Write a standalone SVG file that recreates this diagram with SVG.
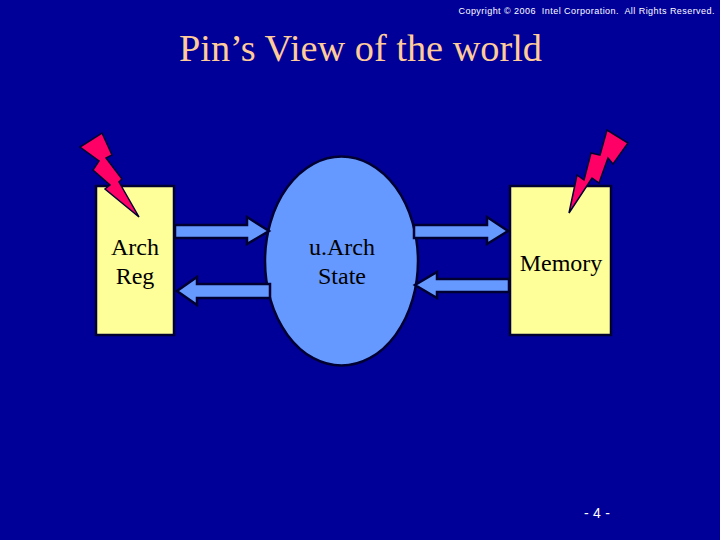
<svg xmlns="http://www.w3.org/2000/svg" width="720" height="540" viewBox="0 0 720 540">
<style>
.n{fill:#ffff99;stroke:#000033;stroke-width:2.500}
.t{font-family:"Liberation Serif",serif;font-size:24px;fill:#000;text-anchor:middle}
.a{fill:#6699ff;stroke:#000033;stroke-width:2.500;stroke-linejoin:miter}
.z{fill:#ff0066;stroke:#000033;stroke-width:1.500}
</style>
<rect width="720" height="540" fill="#000099"/>
<text id="copyright" x="458.500" y="14" font-family="Liberation Sans,sans-serif" font-size="9" fill="#fff" textLength="256" xml:space="preserve">Copyright © 2006  Intel Corporation.  All Rights Reserved.</text>
<text id="title" x="179" y="61" font-family="Liberation Serif,serif" font-size="38" fill="#ffcc99" textLength="363" lengthAdjust="spacingAndGlyphs">Pin’s View of the world</text>
<g id="arch-reg"><rect class="n" x="96" y="186" width="78" height="149"/><text class="t" x="135" y="255">Arch</text><text class="t" x="135" y="284">Reg</text></g>
<g id="memory"><rect class="n" x="510" y="186" width="101" height="149"/><text class="t" x="561" y="271">Memory</text></g>
<g id="uarch-state"><ellipse cx="341.500" cy="261" rx="76.500" ry="104.500" fill="#6699ff" stroke="#000033" stroke-width="2.500"/><text class="t" x="342" y="255">u.Arch</text><text class="t" x="342" y="284">State</text></g>
<g id="connectors">
<path class="a" d="M175 225H247V217L269 231L247 244V238H175Z"/>
<path class="a" d="M270 284H197V277L177 291L197 305V298H270Z"/>
<path class="a" d="M414 225H487V217L508 231L487 244V238H414Z"/>
<path class="a" d="M509 279H437V272L415 285L437 298V292H509Z"/>
</g>
<g id="bolts">
<path class="z" d="M80 147L102 133L112 155L106 158L122 179L119 182L139 217L105 189L110 185L93 170L99 161Z"/>
<path class="z" d="M569 213L577 175L584 180L591 153L600 155L607 130L628 143L613 164L608 158L599 183L592 178Z"/>
</g>
<text id="page" x="584" y="518" font-family="Liberation Sans,sans-serif" font-size="14" fill="#fff" textLength="26" xml:space="preserve">- 4 -</text>
</svg>
